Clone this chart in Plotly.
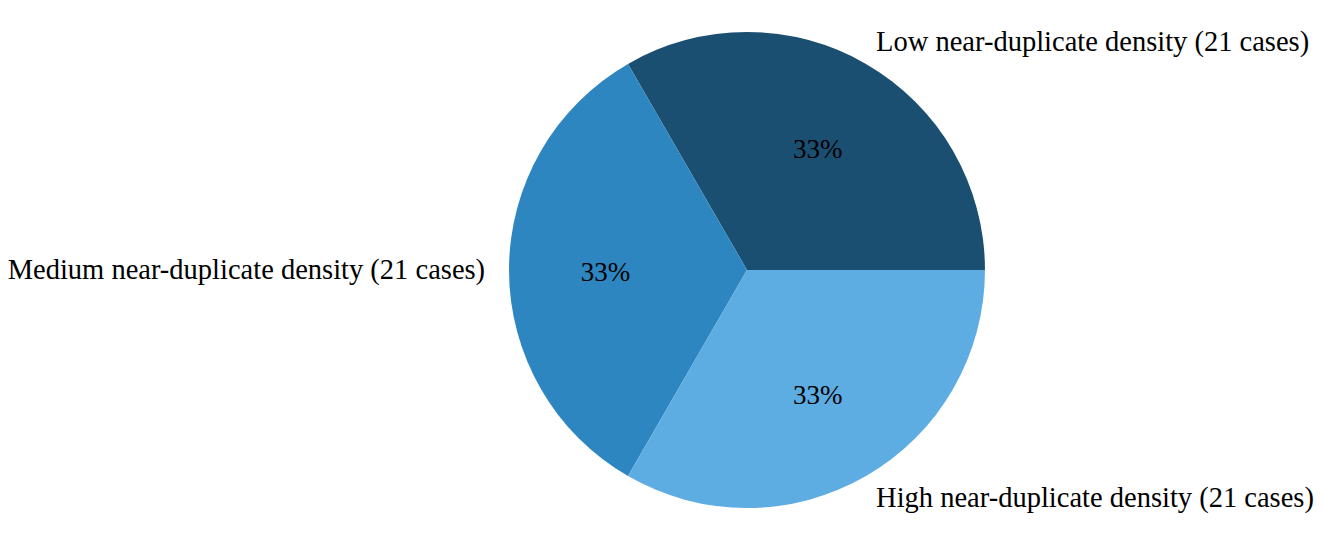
import plotly.graph_objects as go

# Datenbasis
labels = ["Low near-duplicate density (21 cases)",
          "Medium near-duplicate density (21 cases)",
          "High near-duplicate density (21 cases)"]
counts = [21, 21, 21]
colors = ["#1b4f72", "#2e86c1", "#5dade2"]

transparent = ["rgba(0,0,0,0)"] * len(counts)


def make_plot():
    fig = go.Figure()
    # eigentliches Tortendiagramm (ohne Text)
    fig.add_trace(go.Pie(labels=labels, values=counts, sort=False,
                         direction="counterclockwise", rotation=-30,
                         automargin=False,
                         domain=dict(x=[0.3784, 0.7379], y=[0.0792, 0.9558]),
                         marker=dict(colors=colors, line=dict(width=0)),
                         textinfo="none",
                         showlegend=False, hoverinfo="skip"))
    # Prozentwerte (transparente, groessere Kopie -> Text weiter aussen)
    fig.add_trace(go.Pie(labels=labels, values=counts, sort=False,
                         direction="counterclockwise", rotation=-30,
                         automargin=False,
                         domain=dict(x=[0.3573, 0.7591], y=[0.0276, 1.0]),
                         marker=dict(colors=transparent, line=dict(width=0)),
                         textinfo="percent", textposition="inside",
                         texttemplate="%{percent:.0%}",
                         insidetextfont=dict(color="black", size=27),
                         showlegend=False, hoverinfo="skip"))
    # Beschriftungen aussen
    fig.add_trace(go.Pie(labels=labels, values=counts, sort=False,
                         direction="counterclockwise", rotation=-30,
                         automargin=False,
                         domain=dict(x=[0.3664, 0.744], y=[0.0571, 0.9779]),
                         marker=dict(colors=transparent, line=dict(width=0)),
                         textinfo="label", textposition="outside",
                         outsidetextfont=dict(color="black", size=28.5),
                         showlegend=False, hoverinfo="skip"))
    fig.update_layout(width=1324, height=543,
                      font=dict(family="Liberation Serif", size=28, color="black"),
                      paper_bgcolor="white", plot_bgcolor="white",
                      margin=dict(l=0, r=0, t=0, b=0))
    return fig


if __name__ == "__main__":
    fig = make_plot()
    fig.write_html("out.html")
